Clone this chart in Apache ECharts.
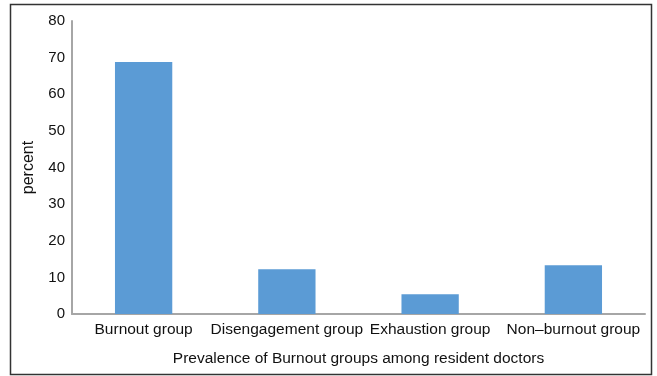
<!DOCTYPE html>
<html><head><meta charset="utf-8">
<script src="https://cdn.jsdelivr.net/npm/echarts@6/dist/echarts.min.js"></script>
<style>html,body{margin:0;padding:0;background:#fff}#c{width:657px;height:376px}</style>
</head><body><div id="c"></div>
<script>
const categories = ['Burnout group', 'Disengagement group', 'Exhaustion group', 'Non\u2013burnout group'];
const percentValues = [68.8, 12.2, 5.4, 13.3];
const yTicks = [0, 10, 20, 30, 40, 50, 60, 70, 80];

const chart = echarts.init(document.getElementById('c'));
const font = 'Liberation Sans, Arial, sans-serif';
chart.setOption({
  animation: false,
  backgroundColor: '#fff',
  graphic: [{
    type: 'rect', shape: {x: 10.5, y: 4.5, width: 641, height: 370},
    style: {fill: 'none', stroke: '#333', lineWidth: 1.5}, z: 100
  }],
  grid: {left: 72, right: 12, top: 21, bottom: 62},
  xAxis: {
    type: 'category', data: categories,
    name: 'Prevalence of Burnout groups among resident doctors',
    nameLocation: 'middle', nameGap: 37,
    nameTextStyle: {fontFamily: font, fontSize: 15.5, color: '#111'},
    axisLine: {lineStyle: {color: '#A6A6A6', width: 2}},
    axisTick: {show: false},
    axisLabel: {interval: 0, fontFamily: font, fontSize: 15.5, color: '#111', margin: 8}
  },
  yAxis: {
    type: 'value', min: yTicks[0], max: yTicks[yTicks.length - 1], interval: 10,
    name: 'percent', nameLocation: 'middle', nameGap: 35, nameRotate: 90,
    nameTextStyle: {fontFamily: font, fontSize: 16, color: '#111'},
    axisLine: {show: true, lineStyle: {color: '#A6A6A6', width: 2}},
    axisTick: {show: false},
    splitLine: {show: false},
    axisLabel: {fontFamily: font, fontSize: 15, color: '#111', margin: 7}
  },
  series: [{
    type: 'bar', data: percentValues, barWidth: '40%',
    itemStyle: {color: '#5B9BD5'}
  }]
});
</script></body></html>
